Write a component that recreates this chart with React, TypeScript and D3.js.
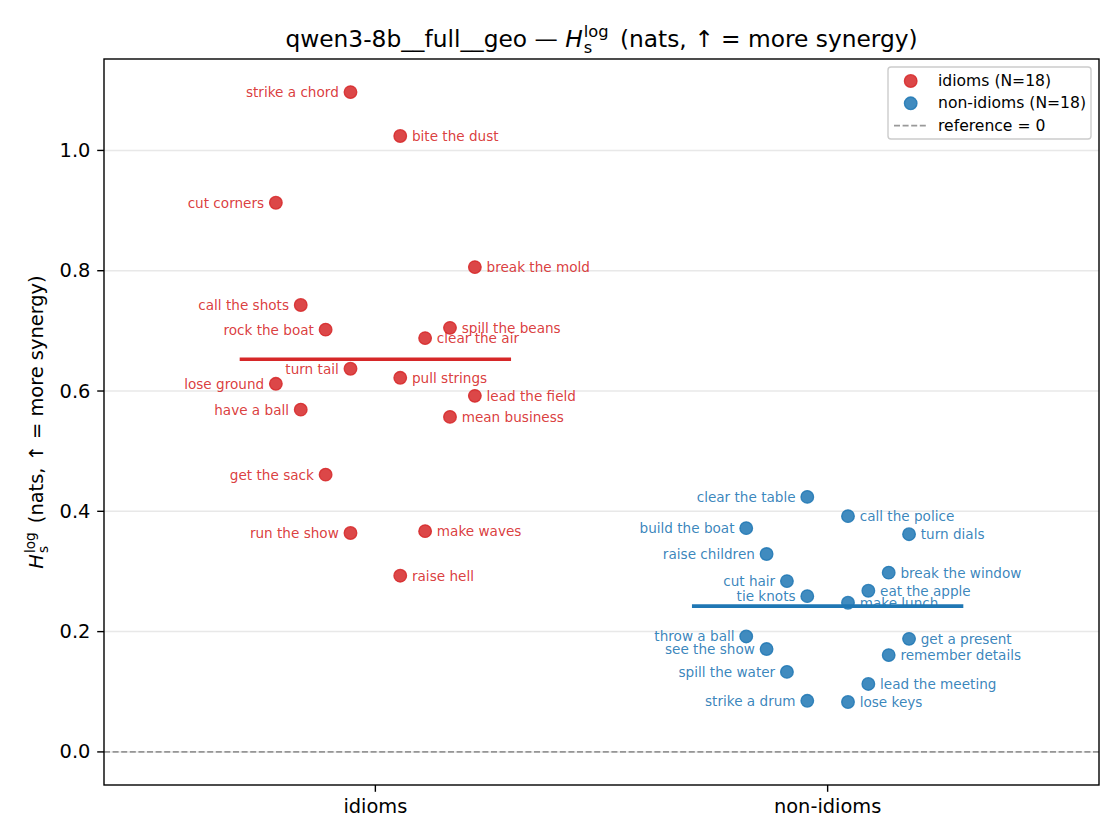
import * as d3 from 'd3';
import React, { useEffect, useRef } from 'react';

const categories = ['idioms', 'non-idioms'];
const colors = ['#d62728', '#1f77b4'];

const idiomNames = [
  'strike a chord', 'bite the dust', 'cut corners', 'break the mold', 'call the shots', 'rock the boat',
  'spill the beans', 'clear the air', 'turn tail', 'pull strings', 'lose ground', 'lead the field',
  'have a ball', 'mean business', 'get the sack', 'run the show', 'make waves', 'raise hell',
];
const idiomValues = [
  1.097, 1.024, 0.913, 0.806, 0.743, 0.702, 0.705, 0.688, 0.637, 0.622, 0.612, 0.592,
  0.569, 0.557, 0.461, 0.364, 0.367, 0.293,
];
const idiomJitter = [
  -0.055, 0.055, -0.22, 0.22, -0.165, -0.11, 0.165, 0.11, -0.055, 0.055, -0.22, 0.22,
  -0.165, 0.165, -0.11, -0.055, 0.11, 0.055,
];

const nonIdiomNames = [
  'clear the table', 'call the police', 'build the boat', 'turn dials', 'raise children', 'break the window',
  'cut hair', 'eat the apple', 'tie knots', 'make lunch', 'throw a ball', 'get a present',
  'see the show', 'remember details', 'spill the water', 'lead the meeting', 'strike a drum', 'lose keys',
];
const nonIdiomValues = [
  0.424, 0.392, 0.372, 0.362, 0.329, 0.298, 0.284, 0.268, 0.259, 0.248, 0.192, 0.188,
  0.171, 0.161, 0.133, 0.113, 0.085, 0.083,
];
const nonIdiomJitter = [
  -0.045, 0.045, -0.18, 0.18, -0.135, 0.135, -0.09, 0.09, -0.045, 0.045, -0.18, 0.18,
  -0.135, 0.135, -0.09, 0.09, -0.045, 0.045,
];

const yTicks = [0, 0.2, 0.4, 0.6, 0.8, 1.0];

const width = 1120;
const height = 840;
const left = 104;
const right = 1099;
const top = 59;
const bottom = 785;
const font = 'DejaVu Sans, sans-serif';

export default function App(): JSX.Element {
  const ref = useRef<SVGSVGElement>(null);

  useEffect(() => {
    document.body.style.margin = '0';
    document.body.style.overflow = 'hidden';

    const svg = d3.select(ref.current);
    svg.selectAll('*').remove();

    const x = d3.scaleLinear().domain([-0.6, 1.6]).range([left, right]);
    const y = d3.scaleLinear().domain([-0.055, 1.152]).range([bottom, top]);

    const groups = [
      { names: idiomNames, values: idiomValues, jitter: idiomJitter },
      { names: nonIdiomNames, values: nonIdiomValues, jitter: nonIdiomJitter },
    ];

    // grid
    svg.append('g')
      .selectAll('line')
      .data(yTicks)
      .enter()
      .append('line')
      .attr('x1', left)
      .attr('x2', right)
      .attr('y1', (d) => y(d))
      .attr('y2', (d) => y(d))
      .attr('stroke', '#e8e8e8')
      .attr('stroke-width', 1.5);

    // reference line
    svg.append('line')
      .attr('x1', left)
      .attr('x2', right)
      .attr('y1', y(0))
      .attr('y2', y(0))
      .attr('stroke', '#808080')
      .attr('stroke-opacity', 0.8)
      .attr('stroke-width', 1.6)
      .attr('stroke-dasharray', '6,2.6');

    groups.forEach((grp, gi) => {
      const pts = grp.values.map((v, i) => ({ v, name: grp.names[i], j: grp.jitter[i] }));
      const g = svg.append('g');
      g.selectAll('circle')
        .data(pts)
        .enter()
        .append('circle')
        .attr('cx', (d) => x(gi + d.j))
        .attr('cy', (d) => y(d.v))
        .attr('r', 6.3)
        .attr('fill', colors[gi])
        .attr('fill-opacity', 0.85)
        .attr('stroke', colors[gi])
        .attr('stroke-opacity', 0.85)
        .attr('stroke-width', 1.3);

      g.selectAll('text')
        .data(pts)
        .enter()
        .append('text')
        .attr('x', (d) => x(gi + d.j) + (d.j < 0 ? -11.7 : 11.7))
        .attr('y', (d) => y(d.v))
        .attr('dominant-baseline', 'central')
        .attr('text-anchor', (d) => (d.j < 0 ? 'end' : 'start'))
        .attr('font-family', font)
        .attr('font-size', 13.6)
        .attr('fill', colors[gi])
        .attr('fill-opacity', 0.9)
        .text((d) => d.name);
    });

    // mean lines
    groups.forEach((grp, gi) => {
      const m = d3.mean(grp.values) as number;
      svg.append('line')
        .attr('x1', x(gi - 0.3))
        .attr('x2', x(gi + 0.3))
        .attr('y1', y(m))
        .attr('y2', y(m))
        .attr('stroke', colors[gi])
        .attr('stroke-width', 3.6);
    });

    // frame
    svg.append('rect')
      .attr('x', left)
      .attr('y', top)
      .attr('width', right - left)
      .attr('height', bottom - top)
      .attr('fill', 'none')
      .attr('stroke', '#000')
      .attr('stroke-width', 1.4);

    // y axis
    const yAxis = svg.append('g');
    yTicks.forEach((t) => {
      yAxis.append('line')
        .attr('x1', left - 6.8)
        .attr('x2', left)
        .attr('y1', y(t))
        .attr('y2', y(t))
        .attr('stroke', '#000')
        .attr('stroke-width', 1.4);
      yAxis.append('text')
        .attr('x', left - 13.6)
        .attr('y', y(t))
        .attr('dominant-baseline', 'central')
        .attr('text-anchor', 'end')
        .attr('font-family', font)
        .attr('font-size', 19.4)
        .text(d3.format('.1f')(t));
    });

    // x axis
    const xAxis = svg.append('g');
    categories.forEach((c, i) => {
      xAxis.append('line')
        .attr('x1', x(i))
        .attr('x2', x(i))
        .attr('y1', bottom)
        .attr('y2', bottom + 6.8)
        .attr('stroke', '#000')
        .attr('stroke-width', 1.4);
      xAxis.append('text')
        .attr('x', x(i))
        .attr('y', bottom + 28)
        .attr('text-anchor', 'middle')
        .attr('font-family', font)
        .attr('font-size', 19.4)
        .text(c);
    });

    // title
    const title = svg.append('text')
      .attr('x', (left + right) / 2)
      .attr('y', 47)
      .attr('text-anchor', 'middle')
      .attr('font-family', font)
      .attr('font-size', 23.3);
    title.append('tspan').text('qwen3-8b__full__geo — ');
    title.append('tspan').attr('font-style', 'italic').text('H');
    title.append('tspan').attr('font-size', 16.3).attr('dx', 1).attr('dy', 6).text('s');
    title.append('tspan').attr('font-size', 16.3).attr('dx', -8.5).attr('dy', -16).text('log');
    title.append('tspan').attr('dx', 4).attr('dy', 10).text(' (nats, ↑ = more synergy)');

    // y label
    const ylab = svg.append('text')
      .attr('transform', `translate(43,${(top + bottom) / 2}) rotate(-90)`)
      .attr('text-anchor', 'middle')
      .attr('font-family', font)
      .attr('font-size', 19.4);
    ylab.append('tspan').attr('font-style', 'italic').text('H');
    ylab.append('tspan').attr('font-size', 13.6).attr('dx', 1).attr('dy', 5).text('s');
    ylab.append('tspan').attr('font-size', 13.6).attr('dx', -7.1).attr('dy', -13.5).text('log');
    ylab.append('tspan').attr('dx', 3).attr('dy', 8.5).text(' (nats, ↑ = more synergy)');

    // legend
    const lg = svg.append('g');
    lg.append('rect')
      .attr('x', 888)
      .attr('y', 67)
      .attr('width', 203)
      .attr('height', 72)
      .attr('rx', 3)
      .attr('fill', '#fff')
      .attr('fill-opacity', 0.8)
      .attr('stroke', '#cccccc')
      .attr('stroke-width', 1.4);
    const entries = [
      { label: `idioms (N=${idiomValues.length})`, color: colors[0], kind: 'dot' },
      { label: `non-idioms (N=${nonIdiomValues.length})`, color: colors[1], kind: 'dot' },
      { label: 'reference = 0', color: '#808080', kind: 'dash' },
    ];
    entries.forEach((e, i) => {
      const cy = 81 + i * 22.3;
      if (e.kind === 'dot') {
        lg.append('circle')
          .attr('cx', 910.7)
          .attr('cy', cy)
          .attr('r', 6.3)
          .attr('fill', e.color)
          .attr('fill-opacity', 0.85)
          .attr('stroke', e.color)
          .attr('stroke-opacity', 0.85)
          .attr('stroke-width', 1.3);
      } else {
        lg.append('line')
          .attr('x1', 894)
          .attr('x2', 926)
          .attr('y1', cy)
          .attr('y2', cy)
          .attr('stroke', e.color)
          .attr('stroke-opacity', 0.8)
          .attr('stroke-width', 1.6)
          .attr('stroke-dasharray', '6,2.6');
      }
      lg.append('text')
        .attr('x', 938)
        .attr('y', cy)
        .attr('dominant-baseline', 'central')
        .attr('font-family', font)
        .attr('font-size', 15.6)
        .text(e.label);
    });
  }, []);

  return <svg ref={ref} width={width} height={height} viewBox={`0 0 ${width} ${height}`} style={{ display: 'block', background: '#fff' }} />;
}
